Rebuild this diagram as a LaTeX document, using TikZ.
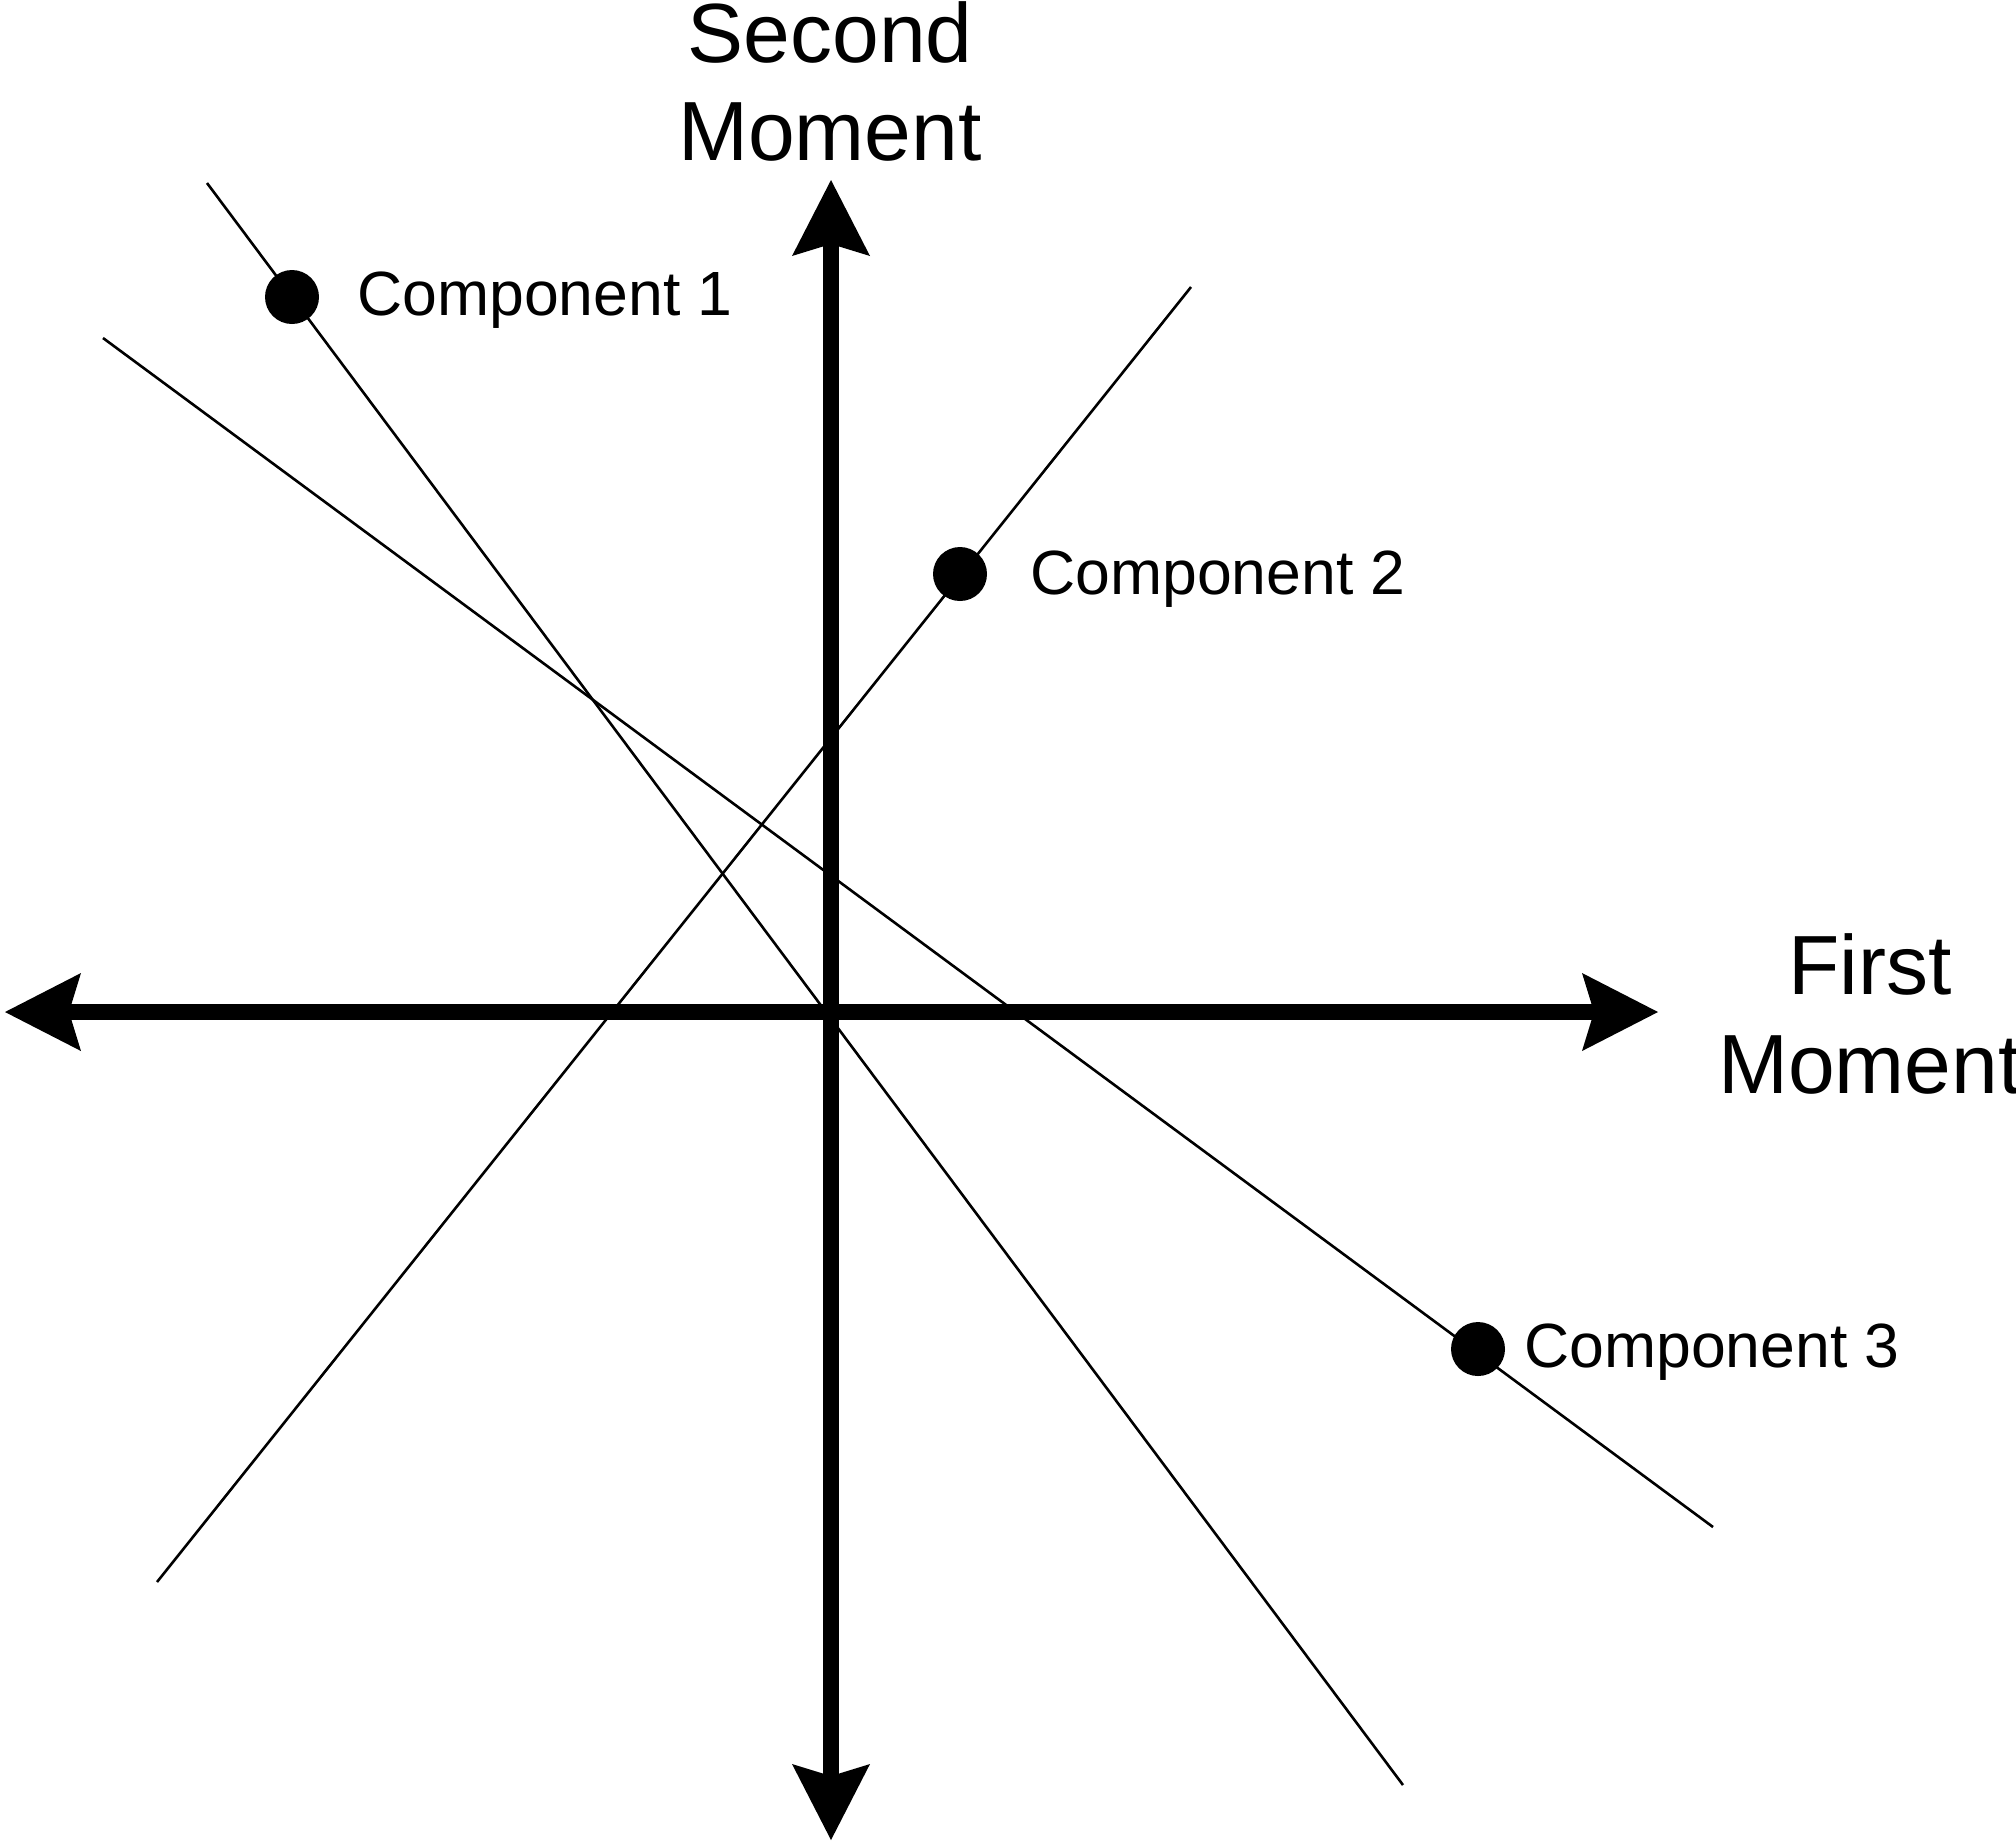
\documentclass[tikz,border=0pt]{standalone}
\usepackage{fontspec}
\setmainfont{Liberation Sans}
\usetikzlibrary{arrows.meta}
\begin{document}
\begin{tikzpicture}[x=0.5pt,y=-0.5pt,
  axis/.style={line width=8pt,
    {Stealth[length=38pt,width=39pt,inset=6pt,line width=0pt]}-{Stealth[length=38pt,width=39pt,inset=6pt,line width=0pt]}},
  thinline/.style={line width=1.3pt},
  dot/.style={circle,fill=black,inner sep=0pt,minimum size=27pt},
  complabel/.style={anchor=base west,inner sep=0pt,font=\fontsize{31.25}{37}\selectfont},
  axlabel/.style={anchor=base,inner sep=0pt,font=\fontsize{42}{49}\selectfont}]
\useasboundingbox (0,0) rectangle (2016,1844);
% end points
\coordinate (xl) at (5,1012);
\coordinate (xr) at (1658,1012);
\coordinate (yt) at (831,180);
\coordinate (yb) at (831,1840);
\coordinate (l1a) at (207,183);
\coordinate (l1b) at (1403,1785);
\coordinate (l2a) at (1191,287);
\coordinate (l2b) at (157,1582);
\coordinate (l3a) at (103,338);
\coordinate (l3b) at (1713,1527);
% thin lines
\draw[thinline] (l1a) -- (l1b);
\draw[thinline] (l2a) -- (l2b);
\draw[thinline] (l3a) -- (l3b);
% axes
\draw[axis] (xl) -- (xr);
\draw[axis] (yb) -- (yt);
% dots
\node[dot] (c1) at (292,297) {};
\node[dot] (c2) at (960,574) {};
\node[dot] (c3) at (1478,1349) {};
% labels
\node[complabel] (t1) at (357,315) {Component 1};
\node[complabel] (t2) at (1030,594) {Component 2};
\node[complabel] (t3) at (1524,1367) {Component 3};
\node[axlabel] (s1) at (830,62) {Second};
\node[axlabel] (s2) at (830,160) {Moment};
\node[axlabel] (f1) at (1870,994) {First};
\node[axlabel] (f2) at (1870,1093) {Moment};
\end{tikzpicture}
\end{document}
